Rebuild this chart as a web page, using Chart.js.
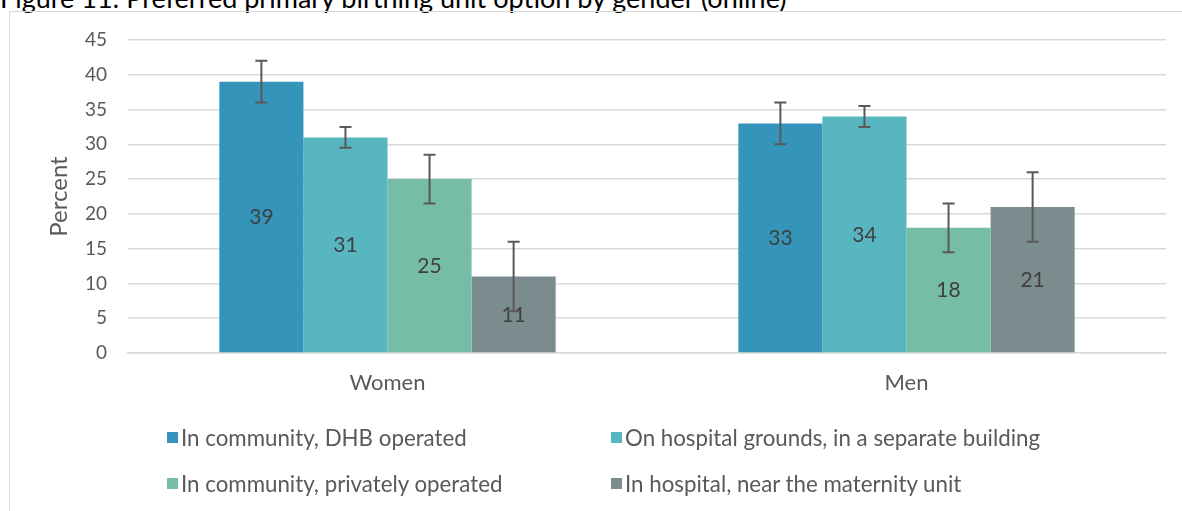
<!DOCTYPE html>
<html>
<head>
<meta charset="utf-8">
<script src="https://cdn.jsdelivr.net/npm/chart.js@4"></script>
<style>
  html, body { margin: 0; padding: 0; background: #ffffff; }
  #wrap { position: relative; width: 1182px; height: 511px; overflow: hidden; background: #fff; }
  #frame { position: absolute; left: 9px; top: 11px; width: 1300px; height: 600px; border-left: 1px solid #d9d9d9; border-top: 1px solid #d9d9d9; }
  #title { position: absolute; left: 0px; top: -16px; font-family: Lato, "Open Sans", sans-serif; font-size: 27px; line-height: 27px; color: #000; white-space: nowrap; }
  canvas { position: absolute; left: 0; top: 0; }
  .leg { position: absolute; font-family: Lato, sans-serif; font-size: 22.3px; color: #595959; white-space: nowrap; display: flex; align-items: center; }
  .leg .box { width: 11px; height: 11px; margin-right: 3px; }
</style>
</head>
<body>
<div id="wrap">
  <div id="title">Figure 11: Preferred primary birthing unit option by gender (online)</div>
  <div id="frame"></div>
  <canvas id="c" width="1182" height="511"></canvas>
  <div id="legend"></div>
</div>
<script>
const categories = ['Women', 'Men'];
const seriesLabels = [
  'In community, DHB operated',
  'On hospital grounds, in a separate building',
  'In community, privately operated',
  'In hospital, near the maternity unit'
];
const dhbOperated      = [39, 33];
const hospitalGrounds  = [31, 34];
const privateOperated  = [25, 18];
const nearMaternity    = [11, 21];
const dhbLow = [36, 30],       dhbHigh = [42, 36];
const groundsLow = [29.5, 32.5], groundsHigh = [32.5, 35.5];
const privateLow = [21.5, 14.5], privateHigh = [28.5, 21.5];
const nearLow = [6, 16],        nearHigh = [16, 26];
const yTicks = [0, 5, 10, 15, 20, 25, 30, 35, 40, 45];
const colors = ['#3494BA', '#58B6C0', '#75BDA7', '#7A8C8E'];

const seriesValues = [dhbOperated, hospitalGrounds, privateOperated, nearMaternity];
const seriesLow = [dhbLow, groundsLow, privateLow, nearLow];
const seriesHigh = [dhbHigh, groundsHigh, privateHigh, nearHigh];

const errorPlugin = {
  id: 'errorAndLabels',
  afterDatasetsDraw(chart) {
    const ctx = chart.ctx;
    const y = chart.scales.y;
    chart.data.datasets.forEach((ds, di) => {
      const meta = chart.getDatasetMeta(di);
      meta.data.forEach((bar, i) => {
        const v = ds.data[i];
        ctx.save();
        ctx.fillStyle = '#404040';
        ctx.font = '21px Lato, sans-serif';
        ctx.textAlign = 'center';
        ctx.textBaseline = 'middle';
        ctx.fillText(String(v), bar.x, y.getPixelForValue(v / 2));
        ctx.restore();
        const lo = y.getPixelForValue(seriesLow[di][i]);
        const hi = y.getPixelForValue(seriesHigh[di][i]);
        ctx.save();
        ctx.strokeStyle = '#595959';
        ctx.lineWidth = 2;
        ctx.beginPath();
        ctx.moveTo(bar.x, lo); ctx.lineTo(bar.x, hi);
        ctx.moveTo(bar.x - 6, lo); ctx.lineTo(bar.x + 6, lo);
        ctx.moveTo(bar.x - 6, hi); ctx.lineTo(bar.x + 6, hi);
        ctx.stroke();
        ctx.restore();
      });
    });
  }
};

new Chart(document.getElementById('c'), {
  type: 'bar',
  data: {
    labels: categories,
    datasets: seriesValues.map((vals, k) => ({
      label: seriesLabels[k],
      data: vals,
      backgroundColor: colors[k],
      borderWidth: 0,
      barPercentage: 1,
      categoryPercentage: 0.648
    }))
  },
  options: {
    responsive: false,
    animation: false,
    layout: { padding: { left: 45, right: 16, top: 40, bottom: 0 } },
    plugins: { legend: { display: false }, tooltip: { enabled: false } },
    scales: {
      x: {
        grid: { display: false, drawTicks: false },
        border: { display: true, color: '#d9d9d9', width: 1.5 },
        ticks: { color: '#595959', font: { family: 'Lato', size: 22 }, padding: 17 },
        afterFit(s) { s.height = 158; }
      },
      y: {
        min: 0, max: 45,
        afterBuildTicks(s) { s.ticks = yTicks.map(v => ({ value: v })); },
        grid: { color: '#d9d9d9', lineWidth: 1.6, drawTicks: false },
        border: { display: false },
        ticks: { color: '#595959', font: { family: 'Lato', size: 19 }, padding: 21 },
        title: { display: true, text: 'Percent', color: '#595959', font: { family: 'Lato', size: 24 }, padding: 0 },
        afterFit(s) { s.width = 83; }
      }
    }
  },
  plugins: [errorPlugin]
});

const legendPos = [[167, 437], [611, 437], [167, 483], [611, 483]];
const legend = document.getElementById('legend');
seriesLabels.forEach((lab, k) => {
  const d = document.createElement('div');
  d.className = 'leg';
  d.style.left = legendPos[k][0] + 'px';
  d.style.top = (legendPos[k][1] - 13) + 'px';
  d.style.height = '26px';
  const b = document.createElement('span');
  b.className = 'box';
  b.style.background = colors[k];
  const t = document.createElement('span');
  t.textContent = lab;
  d.appendChild(b); d.appendChild(t);
  legend.appendChild(d);
});
</script>
</body>
</html>
